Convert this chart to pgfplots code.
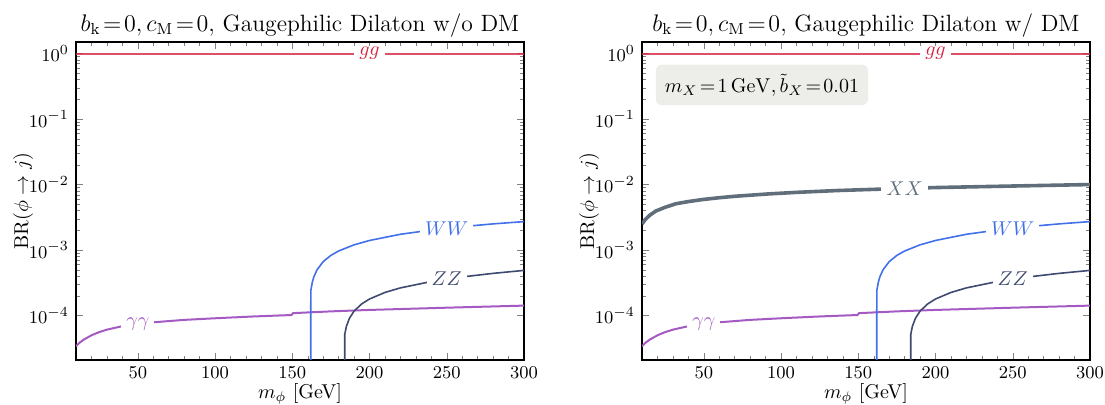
\documentclass[border=0pt]{standalone}
\usepackage{pgfplots}
\usepackage{pgfplotstable}
\pgfplotsset{compat=1.18}
\definecolor{ggc}{RGB}{214,36,66}
\definecolor{wwc}{RGB}{65,112,232}
\definecolor{zzc}{RGB}{62,74,112}
\definecolor{aac}{RGB}{165,90,195}
\definecolor{xxc}{RGB}{95,110,122}
\definecolor{boxc}{RGB}{237,238,234}

\pgfplotstableread{
m br
10 0.997
300 0.997
}\tabgg
\pgfplotstableread{
m br
161.9 1e-7
162 2.4e-4
163 3.25e-4
164 3.91e-4
166 4.99e-4
170 6.66e-4
175 8.30e-4
180 9.68e-4
190 1.202e-3
200 1.401e-3
220 1.744e-3
240 2.020e-3
260 2.280e-3
280 2.510e-3
300 2.720e-3
}\tabww
\pgfplotstableread{
m br
183.9 1e-7
184 5.2e-5
185 6.82e-5
187 9.09e-5
190 1.170e-4
195 1.511e-4
200 1.791e-4
210 2.255e-4
220 2.647e-4
240 3.314e-4
260 3.890e-4
280 4.410e-4
300 4.894e-4
}\tabzz
\pgfplotstableread{
m br
10 3.4e-5
12 3.8e-5
15 4.3e-5
20 5.0e-5
25 5.6e-5
30 6.1e-5
40 6.9e-5
50 7.5e-5
60 7.9e-5
80 8.6e-5
100 9.1e-5
125 9.7e-5
149.5 1.02e-4
150.5 1.09e-4
175 1.16e-4
200 1.22e-4
250 1.32e-4
300 1.42e-4
}\tabaa
\pgfplotstableread{
m br
10 2.5e-3
12 2.9e-3
15 3.4e-3
19 3.95e-3
25 4.5e-3
32 5.1e-3
40 5.5e-3
49 5.9e-3
60 6.3e-3
71 6.65e-3
92 7.2e-3
110 7.6e-3
136 8.1e-3
170 8.6e-3
200 9.0e-3
250 9.5e-3
300 1.0e-2
}\tabxx

\tikzset{lbl/.style={fill=white, inner xsep=2.5pt, inner ysep=0.5pt, font=\fontsize{10}{11}\selectfont}}

\begin{document}
\begin{tikzpicture}
\begin{axis}[at={(0,0)},
  scale only axis, width=224pt, height=159pt,
  xmin=10, xmax=300, ymode=log, ymin=2.1e-5, ymax=1.5,
  xtick={50,100,...,300}, minor xtick={10,20,...,300},
  ytick={1e-4,1e-3,1e-2,1e-1,1},
  tick align=inside, tick pos=both,
  major tick length=3.5pt, minor tick length=2pt,
  axis line style={line width=0.75pt},
  tick label style={font=\fontsize{9.5}{10}\selectfont},
  xlabel style={font=\fontsize{10}{11}\selectfont, yshift=4.5pt},
  ylabel style={font=\fontsize{10}{11}\selectfont, yshift=-9pt},
  title style={font=\fontsize{11.8}{12}\selectfont, yshift=-7pt},
  xlabel={$m_\phi$ [GeV]}, ylabel={BR$(\phi\to j)$},
  title={$b_{\mathrm{k}}\!=\!0, c_{\mathrm{M}}\!=\!0,$ Gaugephilic Dilaton w/o DM}]
\addplot[ggc, opacity=0.8, line width=1pt] table[x=m,y=br]{\tabgg};
\addplot[aac, line width=1pt] table[x=m,y=br]{\tabaa};
\addplot[wwc, line width=0.8pt] table[x=m,y=br]{\tabww};
\addplot[zzc, line width=0.8pt] table[x=m,y=br]{\tabzz};
\node[lbl, text=ggc] at (axis cs:200,0.997) {$gg$};
\node[lbl, text=aac] at (axis cs:50,7.5e-5) {$\gamma\gamma$};
\node[lbl, text=wwc] at (axis cs:250,2.15e-3) {$WW$};
\node[lbl, text=zzc] at (axis cs:250,3.6e-4) {$ZZ$};
\end{axis}
\begin{axis}[at={(283pt,0)},
  scale only axis, width=224pt, height=159pt,
  xmin=10, xmax=300, ymode=log, ymin=2.1e-5, ymax=1.5,
  xtick={50,100,...,300}, minor xtick={10,20,...,300},
  ytick={1e-4,1e-3,1e-2,1e-1,1},
  tick align=inside, tick pos=both,
  major tick length=3.5pt, minor tick length=2pt,
  axis line style={line width=0.75pt},
  tick label style={font=\fontsize{9.5}{10}\selectfont},
  xlabel style={font=\fontsize{10}{11}\selectfont, yshift=4.5pt},
  ylabel style={font=\fontsize{10}{11}\selectfont, yshift=-9pt},
  title style={font=\fontsize{11.8}{12}\selectfont, yshift=-7pt},
  xlabel={$m_\phi$ [GeV]}, ylabel={BR$(\phi\to j)$},
  title={$b_{\mathrm{k}}\!=\!0, c_{\mathrm{M}}\!=\!0,$ Gaugephilic Dilaton w/ DM}]
\addplot[ggc, opacity=0.8, line width=1pt] table[x=m,y=br]{\tabgg};
\addplot[aac, line width=1pt] table[x=m,y=br]{\tabaa};
\addplot[wwc, line width=0.8pt] table[x=m,y=br]{\tabww};
\addplot[zzc, line width=0.8pt] table[x=m,y=br]{\tabzz};
\addplot[xxc, line width=1.8pt] table[x=m,y=br]{\tabxx};
\node[lbl, text=ggc] at (axis cs:200,0.997) {$gg$};
\node[lbl, text=aac] at (axis cs:50,7.5e-5) {$\gamma\gamma$};
\node[lbl, text=wwc] at (axis cs:250,2.15e-3) {$WW$};
\node[lbl, text=zzc] at (axis cs:250,3.6e-4) {$ZZ$};
\node[lbl, text=xxc] at (axis cs:180,8.75e-3) {$XX$};
\node[fill=boxc, rounded corners=3pt, anchor=north west, inner xsep=4.5pt, inner ysep=4.5pt, font=\fontsize{9.8}{10}\selectfont] at (rel axis cs:0.03,0.93) {$m_X\!=\!1\,\mathrm{GeV}, \tilde{b}_X\!=\!0.01$};
\end{axis}
\pgfresetboundingbox
\path[use as bounding box] (-38pt,-22.5pt) rectangle (514.5pt,180pt);
\end{tikzpicture}
\end{document}
